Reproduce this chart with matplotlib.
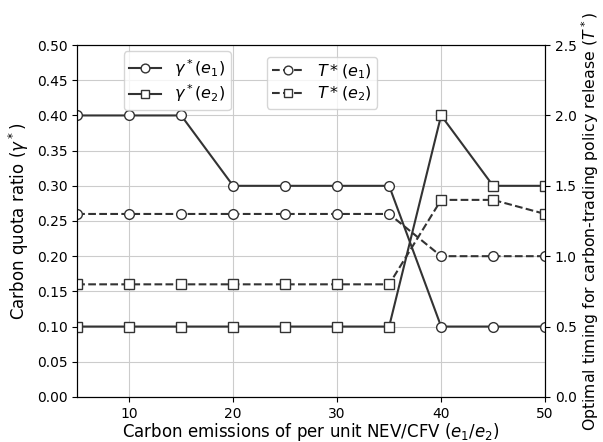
import matplotlib.pyplot as plt

e = [5, 10, 15, 20, 25, 30, 35, 40, 45, 50]
gamma_e1 = [0.4, 0.4, 0.4, 0.3, 0.3, 0.3, 0.3, 0.1, 0.1, 0.1]
gamma_e2 = [0.1, 0.1, 0.1, 0.1, 0.1, 0.1, 0.1, 0.4, 0.3, 0.3]
T_e1 = [1.3, 1.3, 1.3, 1.3, 1.3, 1.3, 1.3, 1.0, 1.0, 1.0]
T_e2 = [0.8, 0.8, 0.8, 0.8, 0.8, 0.8, 0.8, 1.4, 1.4, 1.3]

C = "#333333"
fig = plt.figure(figsize=(6.03, 4.42), dpi=100)
ax = fig.add_axes([0.128, 0.102, 0.776, 0.796])
ax2 = ax.twinx()

mk = dict(color=C, markerfacecolor="white", markeredgecolor=C, markersize=7, linewidth=1.5)
l1, = ax.plot(e, gamma_e1, "-o", label=r"$\gamma^*(e_1)$", **mk)
l2, = ax.plot(e, gamma_e2, "-s", label=r"$\gamma^*(e_2)$", **mk)
l3, = ax2.plot(e, T_e1, "--o", label=r"$T*(e_1)$", **mk)
l4, = ax2.plot(e, T_e2, "--s", label=r"$T*(e_2)$", **mk)

ax.set_xlim(5, 50)
ax.set_ylim(0, 0.5)
ax2.set_ylim(0, 2.5)
ax.set_yticks([i * 0.05 for i in range(11)])
ax.set_xticks([10, 20, 30, 40, 50])
ax.grid(True, color="#cccccc", linewidth=0.8)
ax.tick_params(labelsize=10)
ax2.tick_params(labelsize=10)

ax.set_xlabel(r"Carbon emissions of per unit NEV/CFV ($e_1/e_2$)", fontsize=12, labelpad=0.5)
ax.set_ylabel(r"Carbon quota ratio ($\gamma^*$)", fontsize=12)
# slightly smaller so the long label fits inside the canvas
ax2.set_ylabel(r"Optimal timing for carbon-trading policy release ($T^*$)", fontsize=11.3,
               labelpad=2)

lkw = dict(loc="upper left", fontsize=11.5, labelspacing=0.25, borderpad=0.35,
           handletextpad=0.8, markerscale=0.9)
leg1 = ax2.legend(handles=[l1, l2], bbox_to_anchor=(0.082, 1.005), **lkw)
ax2.add_artist(leg1)
ax2.legend(handles=[l3, l4], bbox_to_anchor=(0.388, 0.99), **lkw)

fig.savefig("out.png", dpi=100)
